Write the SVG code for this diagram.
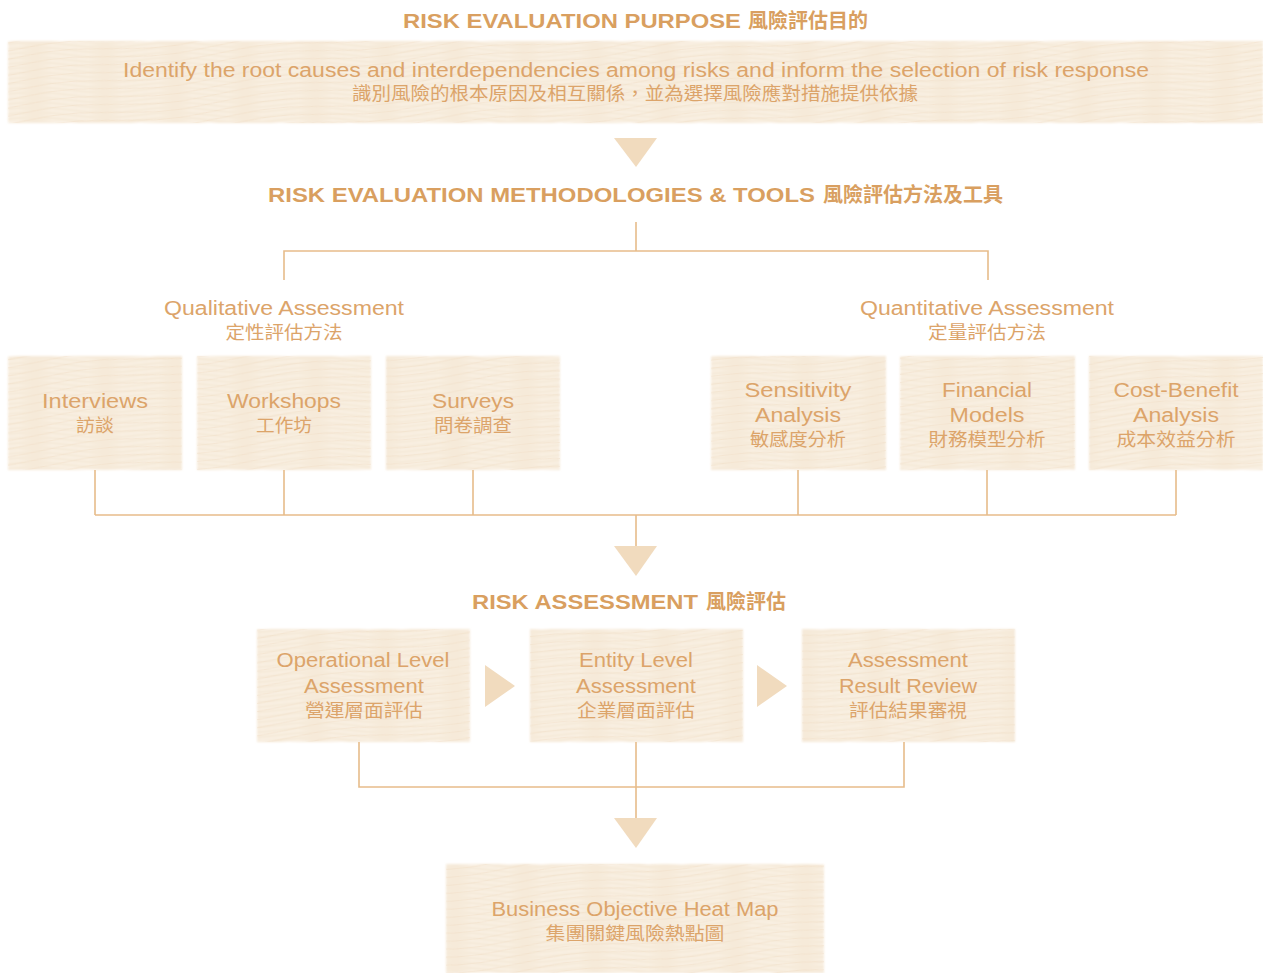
<svg xmlns="http://www.w3.org/2000/svg" width="1263" height="973" viewBox="0 0 1263 973">
<defs>
<pattern id="wave" patternUnits="userSpaceOnUse" width="140" height="5">
<rect width="140" height="5" fill="#F6EAD9"/>
<path d="M0 2.5 C35 -1.5 35 -1.5 70 2.5 S105 6.5 140 2.5" fill="none" stroke="#FFFBF4" stroke-width="1" opacity="0.9"/>
</pattern>
<pattern id="wave2" patternUnits="userSpaceOnUse" width="210" height="8" patternTransform="rotate(-6)">
<path d="M0 4 C52 -1 52 -1 105 4 S157 9 210 4" fill="none" stroke="#EFDAC0" stroke-width="0.8" opacity="0.55"/>
</pattern>
<filter id="soft" x="-5%" y="-5%" width="110%" height="110%">
<feGaussianBlur stdDeviation="0.9"/>
</filter>
</defs>
<style>
.box{fill:url(#wave);filter:url(#soft)}
.tex{fill:url(#wave2)}
.t{font-family:"Liberation Sans","Noto Sans CJK TC",sans-serif;fill:#DCA46A;font-size:20px;text-anchor:middle}
.c{font-family:"Noto Sans CJK TC",sans-serif;fill:#DCA46A;font-size:18px;text-anchor:middle}
.h{font-family:"Liberation Sans",sans-serif;font-weight:bold;fill:#D99F60;font-size:21px}
.hc{font-family:"Noto Sans CJK TC",sans-serif;font-weight:bold;fill:#D99F60;font-size:20px}
.ln{stroke:#E7BC8A;stroke-width:1.6;fill:none}
.tri{fill:#F1DBBE}
</style>

<g id="title-purpose">
<text class="h" x="403" y="28" textLength="338" lengthAdjust="spacingAndGlyphs">RISK EVALUATION PURPOSE</text>
<text class="hc" x="748" y="28" textLength="120" lengthAdjust="spacingAndGlyphs">風險評估目的</text>
</g>

<g id="purpose">
<rect class="box" x="8" y="41" width="1255" height="82"/>
<rect class="tex" x="8" y="41" width="1255" height="82"/>
<text class="t" x="636" y="77" textLength="1026" lengthAdjust="spacingAndGlyphs">Identify the root causes and interdependencies among risks and inform the selection of risk response</text>
<text class="c" x="635" y="100" textLength="566" lengthAdjust="spacingAndGlyphs">識別風險的根本原因及相互關係，並為選擇風險應對措施提供依據</text>
</g>

<g id="title-methods">
<text class="h" x="268" y="202" textLength="547" lengthAdjust="spacingAndGlyphs">RISK EVALUATION METHODOLOGIES &amp; TOOLS</text>
<text class="hc" x="823" y="202" textLength="180" lengthAdjust="spacingAndGlyphs">風險評估方法及工具</text>
</g>

<g id="qualitative">
<text class="t" x="284" y="315" textLength="240" lengthAdjust="spacingAndGlyphs">Qualitative Assessment</text>
<text class="c" x="284" y="339" textLength="117" lengthAdjust="spacingAndGlyphs">定性評估方法</text>
</g>
<g id="quantitative">
<text class="t" x="987" y="315" textLength="254" lengthAdjust="spacingAndGlyphs">Quantitative Assessment</text>
<text class="c" x="987" y="339" textLength="118" lengthAdjust="spacingAndGlyphs">定量評估方法</text>
</g>

<g id="interviews">
<rect class="box" x="8" y="356" width="174" height="114"/><rect class="tex" x="8" y="356" width="174" height="114"/>
<text class="t" x="95" y="408" textLength="106" lengthAdjust="spacingAndGlyphs">Interviews</text>
<text class="c" x="95" y="432" textLength="38" lengthAdjust="spacingAndGlyphs">訪談</text>
</g>
<g id="workshops">
<rect class="box" x="197" y="356" width="174" height="114"/><rect class="tex" x="197" y="356" width="174" height="114"/>
<text class="t" x="284" y="408" textLength="114" lengthAdjust="spacingAndGlyphs">Workshops</text>
<text class="c" x="284" y="432" textLength="56" lengthAdjust="spacingAndGlyphs">工作坊</text>
</g>
<g id="surveys">
<rect class="box" x="386" y="356" width="174" height="114"/><rect class="tex" x="386" y="356" width="174" height="114"/>
<text class="t" x="473" y="408" textLength="82" lengthAdjust="spacingAndGlyphs">Surveys</text>
<text class="c" x="473" y="432" textLength="78" lengthAdjust="spacingAndGlyphs">問卷調查</text>
</g>
<g id="sensitivity">
<rect class="box" x="711" y="356" width="175" height="114"/><rect class="tex" x="711" y="356" width="175" height="114"/>
<text class="t" x="798" y="397" textLength="107" lengthAdjust="spacingAndGlyphs">Sensitivity</text>
<text class="t" x="798" y="422" textLength="86" lengthAdjust="spacingAndGlyphs">Analysis</text>
<text class="c" x="798" y="446" textLength="96" lengthAdjust="spacingAndGlyphs">敏感度分析</text>
</g>
<g id="financial">
<rect class="box" x="900" y="356" width="175" height="114"/><rect class="tex" x="900" y="356" width="175" height="114"/>
<text class="t" x="987" y="397" textLength="90" lengthAdjust="spacingAndGlyphs">Financial</text>
<text class="t" x="987" y="422" textLength="75" lengthAdjust="spacingAndGlyphs">Models</text>
<text class="c" x="987" y="446" textLength="117" lengthAdjust="spacingAndGlyphs">財務模型分析</text>
</g>
<g id="costbenefit">
<rect class="box" x="1089" y="356" width="174" height="114"/><rect class="tex" x="1089" y="356" width="174" height="114"/>
<text class="t" x="1176" y="397" textLength="125" lengthAdjust="spacingAndGlyphs">Cost-Benefit</text>
<text class="t" x="1176" y="422" textLength="86" lengthAdjust="spacingAndGlyphs">Analysis</text>
<text class="c" x="1176" y="446" textLength="119" lengthAdjust="spacingAndGlyphs">成本效益分析</text>
</g>

<g id="title-assessment">
<text class="h" x="472" y="609" textLength="226" lengthAdjust="spacingAndGlyphs">RISK ASSESSMENT</text>
<text class="hc" x="706" y="609" textLength="80" lengthAdjust="spacingAndGlyphs">風險評估</text>
</g>

<g id="operational">
<rect class="box" x="257" y="629" width="213" height="113"/><rect class="tex" x="257" y="629" width="213" height="113"/>
<text class="t" x="363" y="667" textLength="173" lengthAdjust="spacingAndGlyphs">Operational Level</text>
<text class="t" x="364" y="693" textLength="120" lengthAdjust="spacingAndGlyphs">Assessment</text>
<text class="c" x="364" y="717" textLength="118" lengthAdjust="spacingAndGlyphs">營運層面評估</text>
</g>
<g id="entity">
<rect class="box" x="530" y="629" width="213" height="113"/><rect class="tex" x="530" y="629" width="213" height="113"/>
<text class="t" x="636" y="667" textLength="114" lengthAdjust="spacingAndGlyphs">Entity Level</text>
<text class="t" x="636" y="693" textLength="120" lengthAdjust="spacingAndGlyphs">Assessment</text>
<text class="c" x="636" y="717" textLength="118" lengthAdjust="spacingAndGlyphs">企業層面評估</text>
</g>
<g id="review">
<rect class="box" x="802" y="629" width="213" height="113"/><rect class="tex" x="802" y="629" width="213" height="113"/>
<text class="t" x="908" y="667" textLength="120" lengthAdjust="spacingAndGlyphs">Assessment</text>
<text class="t" x="908" y="693" textLength="138" lengthAdjust="spacingAndGlyphs">Result Review</text>
<text class="c" x="908" y="717" textLength="118" lengthAdjust="spacingAndGlyphs">評估結果審視</text>
</g>

<g id="heatmap">
<rect class="box" x="446" y="864" width="378" height="109"/><rect class="tex" x="446" y="864" width="378" height="109"/>
<text class="t" x="635" y="916" textLength="287" lengthAdjust="spacingAndGlyphs">Business Objective Heat Map</text>
<text class="c" x="635" y="940" textLength="179" lengthAdjust="spacingAndGlyphs">集團關鍵風險熱點圖</text>
</g>

<g id="connectors">
<polygon class="tri" points="614,138 657,138 636,167"/>
<path class="ln" d="M636 222 V251 M284 280 V251 H988 V280"/>
<path class="ln" d="M95 470 V515 M284 470 V515 M473 470 V515 M798 470 V515 M987 470 V515 M1176 470 V515 M95 515 H1176 M636 515 V546"/>
<polygon class="tri" points="614,546 657,546 636,576"/>
<polygon class="tri" points="485,665 515,686 485,707"/>
<polygon class="tri" points="757,665 787,686 757,707"/>
<path class="ln" d="M359 742 V787 H904 V742 M636 742 V818"/>
<polygon class="tri" points="614,818 657,818 636,848"/>
</g>
</svg>
